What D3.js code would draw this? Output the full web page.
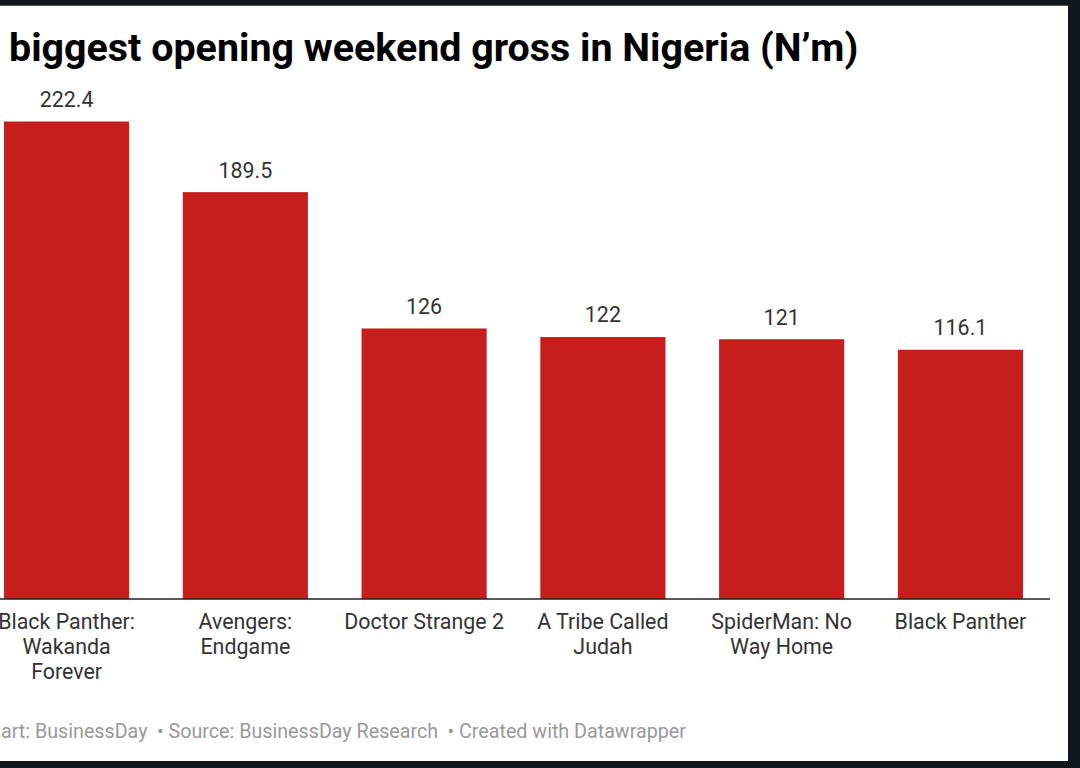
<!DOCTYPE html>
<html>
<head>
<meta charset="utf-8">
<script src="https://cdn.jsdelivr.net/npm/d3@7"></script>
<style>
html, body { margin: 0; padding: 0; background: #0f161c; }
svg { display: block; font-family: Roboto, sans-serif; }
</style>
</head>
<body>
<svg id="chart" width="1080" height="768"></svg>
<script>
var titleText = "biggest opening weekend gross in Nigeria (N\u2019m)";
var footerParts = ["art: BusinessDay", "\u2022 Source: BusinessDay Research", "\u2022 Created with Datawrapper"];
var categories = ["Black Panther: Wakanda Forever", "Avengers: Endgame", "Doctor Strange 2", "A Tribe Called Judah", "SpiderMan: No Way Home", "Black Panther"];
var categoryLines = [["Black Panther:", "Wakanda", "Forever"], ["Avengers:", "Endgame"], ["Doctor Strange 2"], ["A Tribe Called", "Judah"], ["SpiderMan: No", "Way Home"], ["Black Panther"]];
var grossValues = [222.4, 189.5, 126, 122, 121, 116.1];

var svg = d3.select("#chart");

// white card on the dark screenshot frame
svg.append("rect")
    .attr("x", 0)
    .attr("y", 5.7)
    .attr("width", 1068)
    .attr("height", 755.3)
    .attr("fill", "#fff");

var x = d3.scaleBand()
    .domain(categories)
    .range([4, 1023])
    .paddingInner(0.3)
    .paddingOuter(0);

var y = d3.scaleLinear()
    .domain([0, 222.4])
    .range([599, 121.5]);

svg.append("text")
    .attr("x", 9)
    .attr("y", 60.5)
    .attr("font-size", 39.4)
    .attr("font-weight", 700)
    .attr("fill", "#000")
    .text(titleText);

svg.selectAll("rect.bar")
    .data(grossValues)
    .enter()
    .append("rect")
    .attr("class", "bar")
    .attr("x", function(d, i) { return x(categories[i]); })
    .attr("y", function(d) { return y(d); })
    .attr("width", x.bandwidth())
    .attr("height", function(d) { return y(0) - y(d); })
    .attr("fill", "#c61e1c");

svg.selectAll("text.value")
    .data(grossValues)
    .enter()
    .append("text")
    .attr("class", "value")
    .attr("x", function(d, i) { return x(categories[i]) + x.bandwidth() / 2; })
    .attr("y", function(d) { return y(d) - 14.6; })
    .attr("text-anchor", "middle")
    .attr("font-size", 21.4)
    .attr("fill", "#333")
    .text(function(d) { return d; });

// category axis, labels get replaced by hand wrapped lines
var axis = svg.append("g")
    .attr("transform", "translate(0," + y(0) + ")")
    .call(d3.axisBottom(x).tickSize(0).tickPadding(0));

axis.select(".domain")
    .attr("d", "M0,0H1050")
    .attr("stroke", "#222")
    .attr("stroke-width", 1.6);

axis.selectAll(".tick text")
    .attr("y", 0)
    .attr("dy", null)
    .attr("font-family", "Roboto, sans-serif")
    .attr("font-size", 21.4)
    .attr("fill", "#333")
    .text(null)
    .selectAll("tspan")
    .data(function(d) { return categoryLines[categories.indexOf(d)]; })
    .enter()
    .append("tspan")
    .attr("x", 0)
    .attr("y", function(d, i) { return 29.6 + i * 25; })
    .text(function(d) { return d; });

svg.selectAll("text.footer")
    .data(footerParts)
    .enter()
    .append("text")
    .attr("class", "footer")
    .attr("x", function(d, i) { return [1, 157, 447.5][i]; })
    .attr("y", 738)
    .attr("font-size", 19.7)
    .attr("fill", "#999")
    .text(function(d) { return d; });
</script>
</body>
</html>
